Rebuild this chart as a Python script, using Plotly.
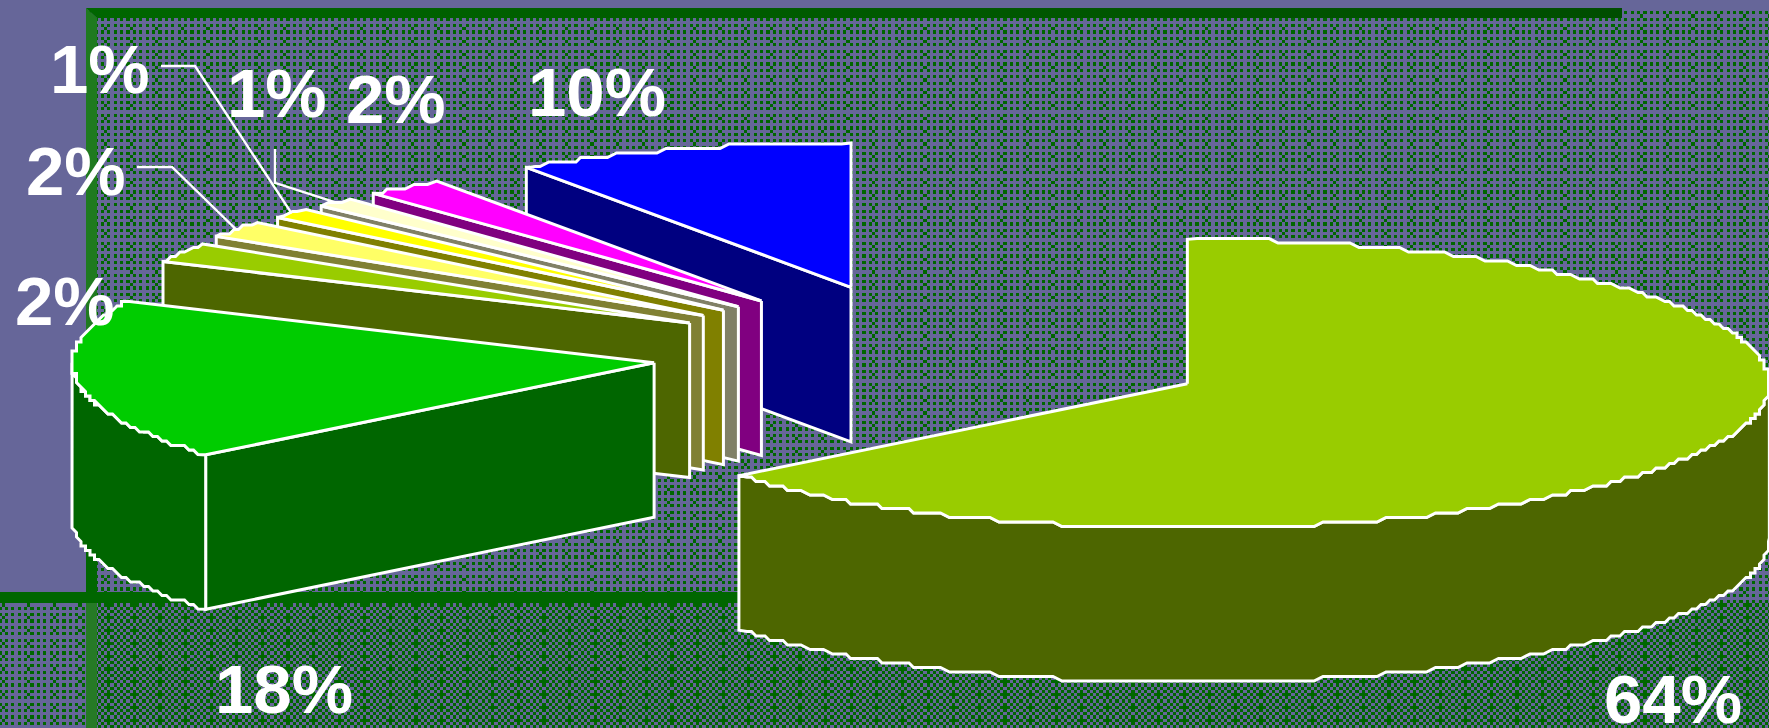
import numpy as np
import plotly.graph_objects as go

# ---- data ----
slice_names = ["Share A", "Share B", "Share C", "Share D", "Share E", "Share F", "Share G", "Share H"]
slice_shares = [64.0, 18.0, 2.22, 1.89, 1.17, 1.1, 2.2, 9.42]
slice_labels = ["64%", "18%", "2%", "2%", "1%", "1%", "2%", "10%"]

# ---- styles ----
top_colors = ["#99cc00", "#00cc00", "#99cc00", "#ffff66", "#ffff00", "#ffffcc", "#ff00ff", "#0000ff"]
side_colors = ["#4d6600", "#006600", "#4d6600", "#808033", "#808000", "#808066", "#800080", "#000080"]
label_pos = [(1673, 699), (284, 689), (65, 301), (76, 171), (100, 69), (277, 93), (396, 99), (597, 92)]
leader_elbows = {3: [(137, 167), (172, 167)], 4: [(161, 66), (195, 66)], 5: [(275, 149), (275, 183)]}
nudge_x = [0, 0, 2, -4, -1, 0, 1, 0]
nudge_y = [0, 0, 3, 3, 3, 3, 2, 0]

W, H = 1769, 728
CX, CY, RX, RY, DEPTH, EXPLODE = 933.0, 354.0, 582.0, 144.4, 154.5, 0.483
PURPLE, GREEN = "#666699", "#006600"
CELL = 3.2
JAG = 4.5


def rect(x0, y0, x1, y1):
    return [x0, x1, x1, x0, x0], [y0, y0, y1, y1, y0]


def poly(xs, ys, fill, line=None, width=0, **kw):
    return go.Scatter(x=xs, y=ys, mode="lines", fill="toself", fillcolor=fill,
                      line=dict(color=line or fill, width=width), hoverinfo="skip",
                      showlegend=False, **kw)


def arc(cx, cy, a0, a1):
    """Rim of the ellipse from a0 to a1 (degrees clockwise from 12 o'clock), stepped."""
    n = max(2, int(abs(a1 - a0) / 0.9) + 1)
    t = np.radians(np.linspace(a0, a1, n))
    x = cx + RX * np.sin(t)
    y = cy - RY * np.cos(t)
    qx = np.round(x / JAG) * JAG
    qy = np.round(y / JAG) * JAG
    qx[0], qy[0], qx[-1], qy[-1] = x[0], y[0], x[-1], y[-1]
    return list(qx), list(qy)


# ---- backdrop texture ----
cols, rows = int(W / CELL) + 2, int(H / CELL) + 2
rr, cc = np.mgrid[0:rows, 0:cols]
sparse = ((rr % 2 == 0) & (cc % 2 == 0)) | ((rr % 4 == 1) & (cc % 8 == 1))
dense = ((rr + cc) % 2 == 0) | ((rr % 4 == 1) & (cc % 8 == 2))
in_lower = (rr * CELL >= 603) & (cc * CELL >= 97)
texture = np.where(in_lower, dense, sparse).astype(int)

fig = go.Figure()
fig.add_trace(go.Heatmap(z=texture.tolist(), x0=0, dx=CELL, y0=0, dy=CELL,
                         zmin=0, zmax=1, showscale=False, hoverinfo="skip", zsmooth=False,
                         colorscale=[[0, PURPLE], [0.5, PURPLE], [0.5, GREEN], [1, GREEN]]))

# ---- solid panels and frame ----
fig.add_trace(poly(*rect(0, 0, W, 8), PURPLE))
fig.add_trace(poly(*rect(0, 0, 86, 592), PURPLE))
fig.add_trace(poly([86, 97, 97, 86, 86], [8, 18, 450, 450, 8], "#1f7a1f"))
fig.add_trace(poly(*rect(86, 450, 97, 592), GREEN))
fig.add_trace(poly(*rect(86, 603, 97, H), "#267a26"))
fig.add_trace(go.Scatter(x=[86, 1622, 1622, 97, 86], y=[8, 8, 18, 18, 8], mode="lines", fill="toself",
                         line=dict(width=0), hoverinfo="skip", showlegend=False,
                         fillgradient=dict(type="horizontal",
                                           colorscale=[[0, "#006600"], [1, "#004d00"]])))
fig.add_trace(poly(*rect(0, 592, 1622, 603), GREEN))

# ---- exploded 3D pie, drawn from its values, back to front ----
total = sum(slice_shares)
edges = np.concatenate([[0], np.cumsum(slice_shares)]) * 360.0 / total
LW = 3
anchors = {}
for i in range(len(slice_shares) - 1, -1, -1):
    a0, a1 = edges[i], edges[i + 1]
    mid = np.radians((a0 + a1) / 2)
    cx = CX + RX * EXPLODE * np.sin(mid) + nudge_x[i]
    cy = CY - RY * EXPLODE * np.cos(mid) + nudge_y[i]
    anchors[i] = (cx + RX * np.sin(mid), cy - RY * np.cos(mid))
    # wall along the leading radius
    if a0 >= 180:
        px = cx + RX * np.sin(np.radians(a0))
        py = cy - RY * np.cos(np.radians(a0))
        fig.add_trace(poly([cx, px, px, cx, cx], [cy, py, py + DEPTH, cy + DEPTH, cy],
                           side_colors[i], "white", LW))
    # curved outer wall (front half of the rim only)
    w0, w1 = max(a0, 90.0), min(a1, 270.0)
    if w1 > w0:
        ax, ay = arc(cx, cy, w0, w1)
        fig.add_trace(poly(ax + ax[::-1] + ax[:1],
                           ay + [v + DEPTH for v in ay[::-1]] + ay[:1],
                           side_colors[i], "white", LW))
    # top sector
    ax, ay = arc(cx, cy, a0, a1)
    fig.add_trace(poly([cx] + ax + [cx], [cy] + ay + [cy], top_colors[i], "white", LW))

# ---- leader lines ----
for i, pts in leader_elbows.items():
    xs = [p[0] for p in pts] + [anchors[i][0]]
    ys = [p[1] for p in pts] + [anchors[i][1]]
    fig.add_trace(go.Scatter(x=xs, y=ys, mode="lines", line=dict(color="white", width=2.4),
                             hoverinfo="skip", showlegend=False))

# ---- labels ----
for text, (x, y) in zip(slice_labels, label_pos):
    fig.add_annotation(x=x, y=y, text="<b>" + text + "</b>", showarrow=False,
                       xanchor="center", yanchor="middle", borderpad=0,
                       font=dict(family="Liberation Sans", size=69, color="white"))

fig.update_layout(width=W, height=H, margin=dict(l=0, r=0, t=0, b=0), paper_bgcolor=PURPLE,
                  plot_bgcolor=PURPLE, showlegend=False,
                  xaxis=dict(range=[0, W], visible=False, fixedrange=True),
                  yaxis=dict(range=[H, 0], visible=False, fixedrange=True))

fig.write_html("out.html", config=dict(displayModeBar=False, responsive=False),
               post_script="document.body.style.margin='0';document.documentElement.style.overflow='hidden';")
